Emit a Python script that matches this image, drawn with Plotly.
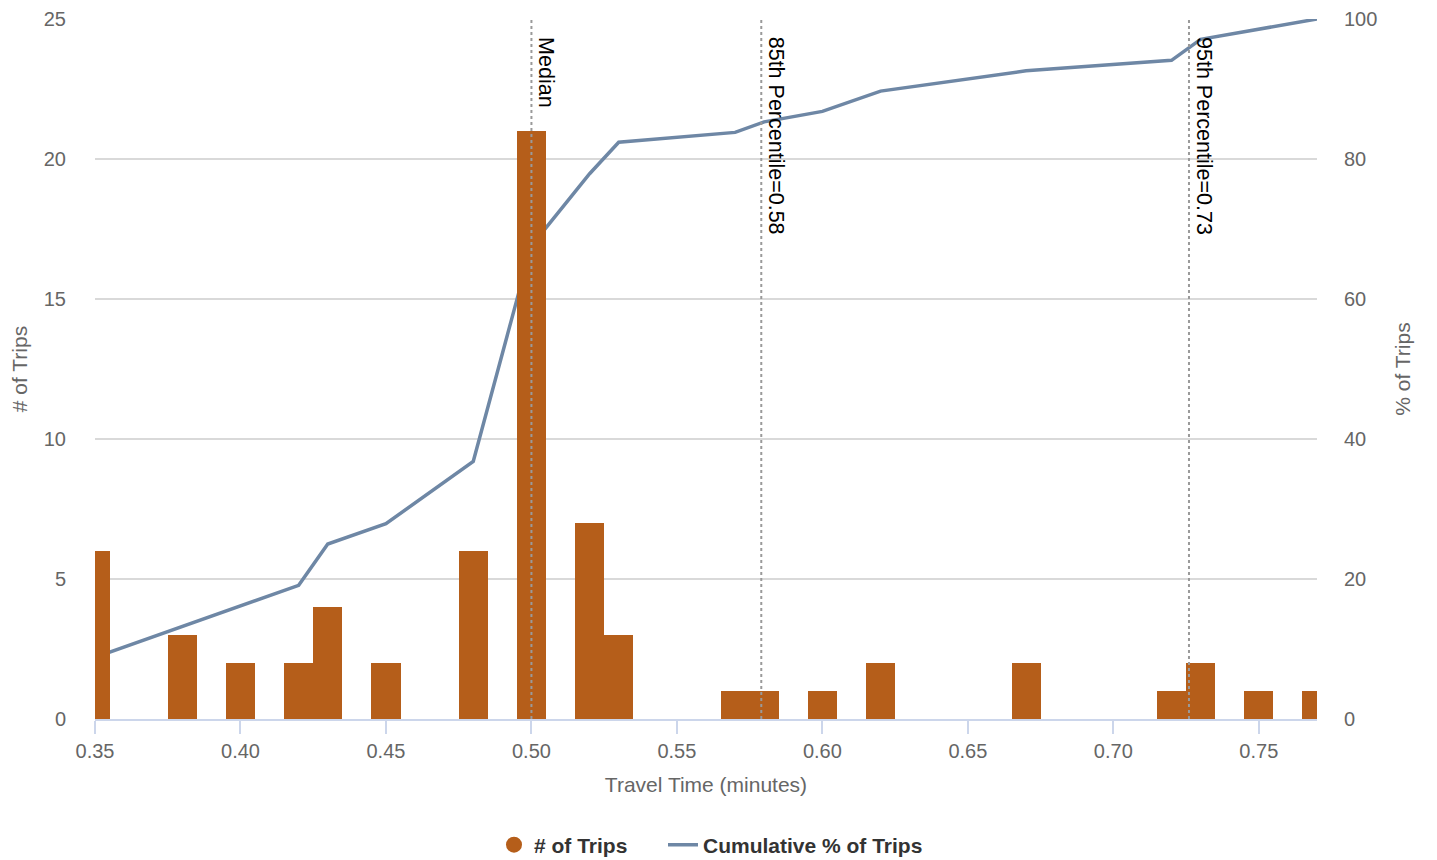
import plotly.graph_objects as go

# ---- data ----
travel_time = [0.35, 0.38, 0.40, 0.42, 0.43, 0.45, 0.48, 0.50, 0.52, 0.53,
               0.57, 0.58, 0.60, 0.62, 0.67, 0.72, 0.73, 0.75, 0.77]
trip_counts = [6, 3, 2, 2, 4, 2, 6, 21, 7, 3, 1, 1, 1, 2, 2, 1, 2, 1, 1]
cumulative_pct = [8.8, 13.2, 16.2, 19.1, 25.0, 27.9, 36.8, 67.6, 77.9, 82.4,
                  83.8, 85.3, 86.8, 89.7, 92.6, 94.1, 97.1, 98.5, 100.0]
percentile_x = [0.50, 0.579, 0.726]
percentile_labels = ["Median", "85th Percentile=0.58", "95th Percentile=0.73"]
x_ticks = [0.35, 0.40, 0.45, 0.50, 0.55, 0.60, 0.65, 0.70, 0.75]
left_ticks = [0, 5, 10, 15, 20, 25]
right_ticks = [0, 20, 40, 60, 80, 100]

BAR_COLOR = "#B55E1A"
LINE_COLOR = "#6E87A5"
FONT = "Liberation Sans, Arial, sans-serif"
AXIS_TXT = "#666666"

fig = go.Figure()

fig.add_trace(go.Scatter(
    x=travel_time, y=cumulative_pct, yaxis="y", mode="lines",
    line=dict(color=LINE_COLOR, width=3.5),
    name="Cumulative % of Trips", legend="legend2", hoverinfo="x+y"))

fig.add_trace(go.Bar(
    x=travel_time, y=trip_counts, yaxis="y2", width=0.01,
    marker=dict(color=BAR_COLOR, line=dict(width=0)),
    name="# of Trips", showlegend=False))

# legend entry with circular symbol for the bars
fig.add_trace(go.Scatter(
    x=[None], y=[None], yaxis="y2", mode="markers",
    marker=dict(color=BAR_COLOR, size=20, symbol="circle"),
    name="# of Trips", legend="legend"))

for px, lab in zip(percentile_x, percentile_labels):
    fig.add_shape(type="line", xref="x", yref="paper", x0=px, x1=px, y0=0, y1=1,
                  line=dict(color="#9a9a9a", width=2, dash="dot"), layer="above")
    fig.add_annotation(x=px, xref="x", y=1, yref="paper", text=lab,
                       textangle=90, xanchor="left", yanchor="top",
                       xshift=1, yshift=-16, showarrow=False,
                       font=dict(family=FONT, size=21.5, color="#000000"))

legend_common = dict(
    orientation="h", y=-0.18, yanchor="middle", xanchor="left",
    font=dict(family=FONT, size=21, color="#333333", weight="bold"),
    bgcolor="rgba(0,0,0,0)",
)

fig.update_layout(
    width=1437, height=860,
    margin=dict(l=95, r=120, t=19, b=141, autoexpand=False),
    paper_bgcolor="white", plot_bgcolor="white",
    font=dict(family=FONT, color=AXIS_TXT),
    bargap=0,
    xaxis=dict(
        range=[0.35, 0.77], tickvals=x_ticks,
        ticktext=[f"{v:.2f}" for v in x_ticks],
        showgrid=False, zeroline=False,
        showline=True, linecolor="#ccd6eb", linewidth=2,
        ticks="outside", ticklen=13, tickwidth=2, tickcolor="#ccd6eb",
        tickfont=dict(family=FONT, size=20, color=AXIS_TXT),
        title=dict(text="Travel Time (minutes)", standoff=16,
                   font=dict(family=FONT, size=21, color=AXIS_TXT)),
        automargin=False,
    ),
    yaxis=dict(
        side="right", range=[0, 100], tickvals=right_ticks,
        showgrid=True, gridcolor="#d9d9d9", gridwidth=1.5,
        zeroline=False, showline=False, ticks="",
        ticklabelstandoff=26,
        tickfont=dict(family=FONT, size=20, color=AXIS_TXT),
        title=dict(text="% of Trips", standoff=18,
                   font=dict(family=FONT, size=21, color=AXIS_TXT)),
        automargin=False,
    ),
    yaxis2=dict(
        overlaying="y", side="left", range=[0, 25], tickvals=left_ticks,
        showgrid=False, zeroline=False, showline=False, ticks="",
        ticklabelstandoff=28,
        tickfont=dict(family=FONT, size=20, color=AXIS_TXT),
        title=dict(text="# of Trips", standoff=10,
                   font=dict(family=FONT, size=21, color=AXIS_TXT)),
        automargin=False,
    ),
    legend=dict(x=(494 - 95) / 1222, **legend_common),
    legend2=dict(x=(663 - 95) / 1222, **legend_common),
)

fig.write_html("out.html", config={"displayModeBar": False},
               post_script="document.body.style.margin='0';")
